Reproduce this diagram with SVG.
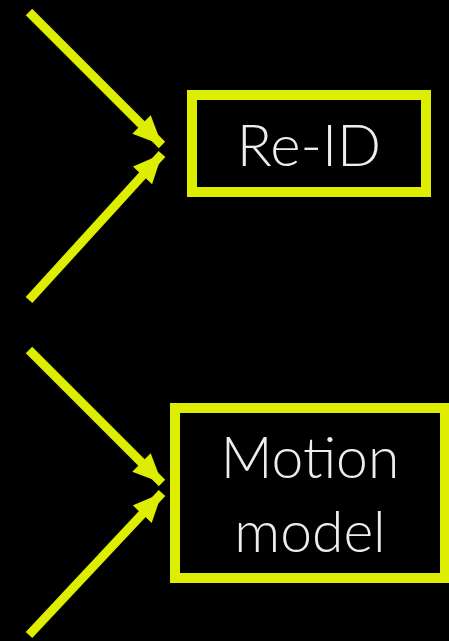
<svg xmlns="http://www.w3.org/2000/svg" width="449" height="641" viewBox="0 0 449 641">
<style>
.box{fill:#000;stroke:#DDEE00;stroke-width:10}
.conn{stroke:#DDEE00;stroke-width:9;fill:none;stroke-linecap:butt}
.lbl{font-family:"Lato","Open Sans","DejaVu Sans",sans-serif;font-weight:300;fill:#EDEDED;text-anchor:middle}
</style>
<defs>
<marker id="ah" markerUnits="userSpaceOnUse" markerWidth="32" markerHeight="30" refX="29" refY="13" orient="auto">
<path d="M0,0 L29,13 L0,26 Z" fill="#DDEE00"/>
</marker>
</defs>
<rect width="449" height="641" fill="#000"/>
<g id="connectors">
<line class="conn" x1="29" y1="12" x2="162" y2="145" marker-end="url(#ah)"/>
<line class="conn" x1="29" y1="300" x2="162" y2="154" marker-end="url(#ah)"/>
<line class="conn" x1="29" y1="350" x2="162" y2="483" marker-end="url(#ah)"/>
<line class="conn" x1="29" y1="635" x2="162" y2="493" marker-end="url(#ah)"/>
</g>
<g id="reid">
<rect class="box" x="192" y="95" width="234" height="97"/>
<text class="lbl" x="309" y="166" font-size="58">Re-ID</text>
</g>
<g id="motion">
<rect class="box" x="175" y="408" width="270" height="170"/>
<text class="lbl" x="310" y="478" font-size="57">Motion</text>
<text class="lbl" x="310" y="552" font-size="57">model</text>
</g>
</svg>
